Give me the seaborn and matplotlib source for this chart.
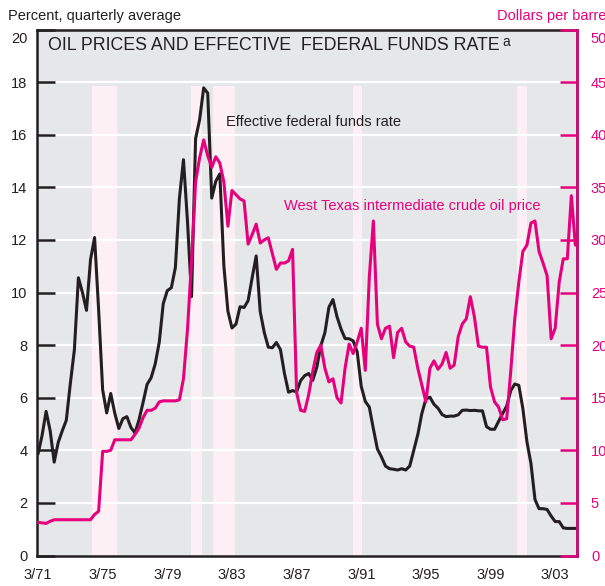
# Stopa funduszy federalnych i cena ropy WTI (kwartalnie, od 1 kw. 1971)
import numpy as np
import pandas as pd
import matplotlib
matplotlib.use('Agg')
import matplotlib.pyplot as plt
import seaborn as sns

# Dane
kwartaly = np.arange(134)  # 0 = 3/71

stopa_fed = [
    3.86, 4.56, 5.48, 4.75,    # 1971
    3.55, 4.30, 4.74, 5.14,    # 1972
    6.54, 7.82, 10.56, 10.00,  # 1973
    9.32, 11.25, 12.09, 9.35,  # 1974
    6.30, 5.42, 6.16, 5.41,    # 1975
    4.83, 5.20, 5.28, 4.87,    # 1976
    4.66, 5.16, 5.82, 6.51,    # 1977
    6.76, 7.28, 8.10, 9.58,    # 1978
    10.07, 10.18, 10.95, 13.58,  # 1979
    15.05, 12.69, 9.84, 15.85,   # 1980
    16.57, 17.78, 17.58, 13.59,  # 1981
    14.23, 14.51, 11.01, 9.29,   # 1982
    8.65, 8.80, 9.46, 9.43,    # 1983
    9.69, 10.56, 11.39, 9.27,  # 1984
    8.48, 7.92, 7.90, 8.10,    # 1985
    7.83, 6.92, 6.21, 6.27,    # 1986
    6.22, 6.65, 6.84, 6.92,    # 1987
    6.66, 7.16, 7.98, 8.47,    # 1988
    9.44, 9.73, 9.08, 8.61,    # 1989
    8.25, 8.24, 8.16, 7.74,    # 1990
    6.43, 5.86, 5.64, 4.82,    # 1991
    4.05, 3.75, 3.40, 3.30,    # 1992
    3.28, 3.25, 3.30, 3.25,    # 1993
    3.40, 4.00, 4.60, 5.40,    # 1994
    5.95, 6.02, 5.75, 5.60,    # 1995
    5.36, 5.28, 5.30, 5.30,    # 1996
    5.35, 5.52, 5.53, 5.51,    # 1997
    5.52, 5.50, 5.50, 4.90,    # 1998
    4.80, 4.80, 5.10, 5.40,    # 1999
    5.68, 6.27, 6.52, 6.47,    # 2000
    5.59, 4.33, 3.50, 2.13,    # 2001
    1.78, 1.78, 1.75, 1.50,    # 2002
    1.29, 1.29, 1.05, 1.03,    # 2003
    1.03, 1.03,                # 2004
]

cena_ropy = [
    3.15, 3.10, 3.05, 3.25,    # 1971
    3.40, 3.40, 3.40, 3.40,    # 1972
    3.40, 3.40, 3.40, 3.40,    # 1973
    3.40, 3.40, 3.90, 4.20,    # 1974
    9.90, 9.90, 10.0, 11.0,    # 1975
    11.0, 11.0, 11.0, 11.0,    # 1976
    11.5, 12.1, 13.1, 13.8,    # 1977
    13.8, 14.0, 14.6, 14.7,    # 1978
    14.7, 14.7, 14.7, 14.8,    # 1979
    16.8, 21.5, 28.0, 35.5,    # 1980
    37.8, 39.5, 38.0, 36.9,    # 1981
    37.9, 37.3, 35.5, 31.3,    # 1982
    34.7, 34.3, 33.9, 33.7,    # 1983
    29.6, 30.5, 31.5, 29.7,    # 1984
    30.0, 30.2, 28.7, 27.2,    # 1985
    27.8, 27.8, 28.0, 29.1,    # 1986
    15.5, 13.8, 13.7, 15.3,    # 1987
    17.5, 19.3, 20.0, 17.8,    # 1988
    16.5, 16.8, 15.0, 14.5,    # 1989
    17.8, 20.1, 19.2, 20.3,    # 1990
    21.6, 17.6, 26.5, 31.8,    # 1991
    22.0, 20.6, 21.6, 21.8,    # 1992
    18.8, 21.2, 21.6, 20.3,    # 1993
    19.9, 19.8, 17.8, 16.2,    # 1994
    14.6, 17.8, 18.5, 17.7,    # 1995
    18.2, 19.3, 17.8, 18.1,    # 1996
    20.8, 22.0, 22.5, 24.6,    # 1997
    22.7, 19.9, 19.8, 19.8,    # 1998
    16.0, 14.6, 14.1, 12.9,    # 1999
    13.0, 17.5, 22.5, 26.0,    # 2000
    28.9, 29.5, 31.6, 31.8,    # 2001
    28.9, 27.8, 26.6, 20.6,    # 2002
    21.6, 26.0, 28.2, 28.2,    # 2003
    34.2, 29.5,                # 2004
]

etykiety_x = ['3/71', '3/75', '3/79', '3/83', '3/87', '3/91', '3/95', '3/99', '3/03']
pozycje_x = [0, 16, 32, 48, 64, 80, 96, 112, 128]
etykiety_lewe = [str(v) for v in range(0, 21, 2)]
etykiety_prawe = [str(v) for v in range(0, 51, 5)]

# Recesje (w kwartałach od 3/71)
recesje = [(13.4, 19.5), (37.8, 40.6), (43.3, 48.7), (77.9, 80.2), (118.5, 121.0)]

CZARNY = '#231f20'
MAGENTA = '#e6007e'
ROZMIAR = 10.5

sns.set_style("darkgrid", {"axes.facecolor": "#e6e7e9", "grid.color": "white"})
plt.rcParams['font.family'] = ['Liberation Sans', 'DejaVu Sans']

df = pd.DataFrame({'kwartal': kwartaly, 'fed': stopa_fed, 'ropa': cena_ropy})

fig, ax = plt.subplots(figsize=(6.05, 5.86), dpi=100)
fig.subplots_adjust(left=37 / 605, right=577 / 605, bottom=1 - 555.5 / 586, top=1 - 29.5 / 586)

for a, b in recesje:
    ax.axvspan(a, b, ymin=0, ymax=17.85 / 20, color='#fdf0f4', lw=0, zorder=0.3)

sns.lineplot(data=df, x='kwartal', y='fed', ax=ax, color=CZARNY, lw=2.2)
ax.set_xlim(-0.25, 133.4)
ax.set_ylim(0, 20)
ax.set_yticks(range(0, 21, 2))
# najwyższa etykieta rysowana osobno, nieco niżej
ax.set_yticklabels(etykiety_lewe[:-1] + [''])
ax.annotate(etykiety_lewe[-1], xy=(0, 20), xycoords=('axes fraction', 'data'),
            xytext=(-7, -7), textcoords='offset points', ha='right', va='center',
            fontsize=ROZMIAR, color=CZARNY)
ax.set_xticks(pozycje_x)
ax.set_xticklabels(etykiety_x)
ax.set_xlabel('')
ax.set_ylabel('')
ax.grid(axis='x', visible=False)
ax.grid(axis='y', color='white', lw=1.6)
ax.tick_params(axis='y', direction='in', length=13, width=1.8, color=CZARNY,
               pad=7, labelsize=ROZMIAR, labelcolor=CZARNY)
ax.tick_params(axis='x', direction='in', length=13, width=1.8, color=CZARNY,
               pad=9, labelsize=ROZMIAR, labelcolor=CZARNY)
for s in ax.spines.values():
    s.set_visible(True)
    s.set_color(CZARNY)
    s.set_linewidth(1.8)

ax2 = ax.twinx()
sns.lineplot(data=df, x='kwartal', y='ropa', ax=ax2, color=MAGENTA, lw=2.2)
ax2.set_ylim(0, 50)
ax2.set_yticks(range(0, 51, 5))
ax2.set_yticklabels(etykiety_prawe[:-1] + [''])
ax2.annotate(etykiety_prawe[-1], xy=(1, 50), xycoords=('axes fraction', 'data'),
             xytext=(10, -7), textcoords='offset points', ha='left', va='center',
             fontsize=ROZMIAR, color=MAGENTA)
ax2.set_ylabel('')
ax2.grid(False)
ax2.tick_params(axis='y', direction='in', length=12, width=1.8, color=MAGENTA,
                pad=10, labelsize=ROZMIAR, labelcolor=MAGENTA)
for nazwa, s in ax2.spines.items():
    s.set_visible(nazwa == 'right')
ax2.spines['right'].set_color(MAGENTA)
ax2.spines['right'].set_linewidth(1.8)

# Tytuł i opisy
tytul = ax.text(0.02, 0.9705, 'OIL PRICES AND EFFECTIVE  FEDERAL FUNDS RATE',
                transform=ax.transAxes, fontsize=12.8, va='center', color=CZARNY)
ax.annotate('a', xy=(1, 1), xycoords=tytul, xytext=(2, 1), textcoords='offset points',
            fontsize=10, va='top', color=CZARNY)

ax.text(46.5, 16.5, 'Effective federal funds rate', fontsize=ROZMIAR, va='center', color=CZARNY)
ax.text(60.9, 13.3, 'West Texas intermediate crude oil price', fontsize=ROZMIAR,
        va='center', color=MAGENTA)

fig.text(8 / 605, 1 - 16 / 586, 'Percent, quarterly average', fontsize=ROZMIAR,
         va='center', color=CZARNY)
fig.text(497 / 605, 1 - 16 / 586, 'Dollars per barrel', fontsize=ROZMIAR,
         va='center', color=MAGENTA)

fig.savefig('out.png', dpi=100)
